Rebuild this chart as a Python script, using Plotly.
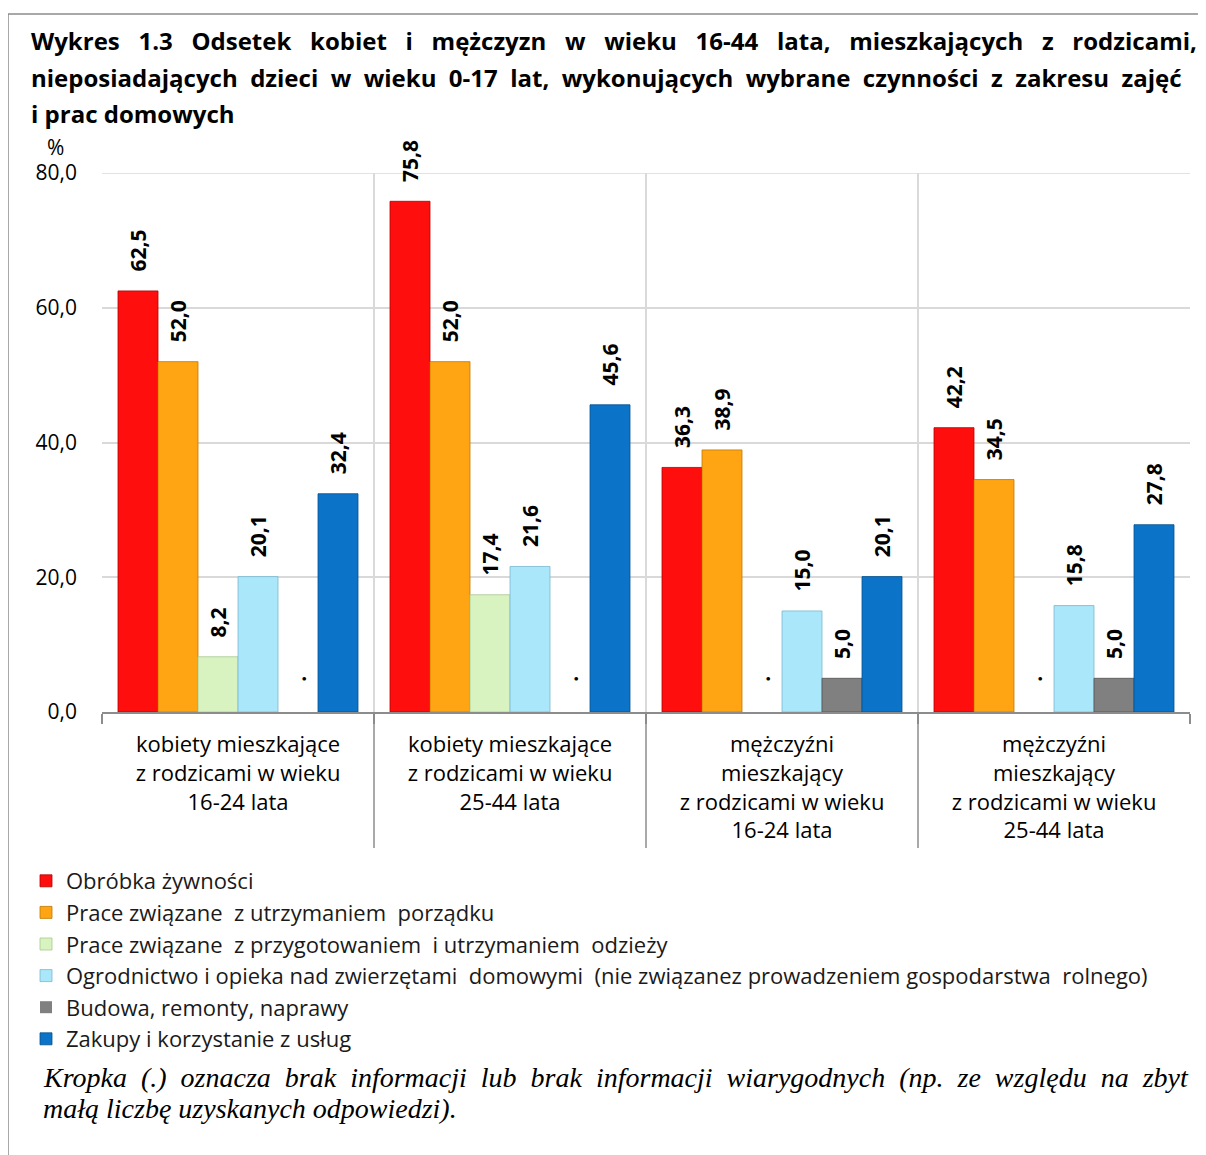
import plotly.graph_objects as go

categories = [
    "kobiety mieszkające<br>z rodzicami w wieku<br>16-24 lata",
    "kobiety mieszkające<br>z rodzicami w wieku<br>25-44 lata",
    "mężczyźni<br>mieszkający<br>z rodzicami w wieku<br>16-24 lata",
    "mężczyźni<br>mieszkający<br>z rodzicami w wieku<br>25-44 lata",
]
cat_ids = ["k16", "k25", "m16", "m25"]

series_names = [
    "Obróbka żywności",
    "Prace związane  z utrzymaniem  porządku",
    "Prace związane  z przygotowaniem  i utrzymaniem  odzieży",
    "Ogrodnictwo i opieka nad zwierzętami  domowymi  (nie związanez prowadzeniem gospodarstwa  rolnego)",
    "Budowa, remonty, naprawy",
    "Zakupy i korzystanie z usług",
]
obrobka = [62.5, 75.8, 36.3, 42.2]
porzadek = [52.0, 52.0, 38.9, 34.5]
odziez = [8.2, 17.4, None, None]
ogrodnictwo = [20.1, 21.6, 15.0, 15.8]
budowa = [None, None, 5.0, 5.0]
zakupy = [32.4, 45.6, 20.1, 27.8]
series_values = [obrobka, porzadek, odziez, ogrodnictwo, budowa, zakupy]

colors = ["#FF0E0E", "#FFA514", "#D8F3C0", "#AAE7FA", "#808080", "#0B74C8"]
edge_colors = ["#B00000", "#C07800", "#A8C890", "#78B8D0", "#505050", "#06508C"]

y_ticks = [0, 20, 40, 60, 80]
y_ticktext = ["0,0", "20,0", "40,0", "60,0", "80,0"]

# the page body adds an 8px offset; layout below is expressed in page pixels
OFF = 8
W, H = 1206, 1155
PL, PR, PT, PB = 102, 1190, 173, 712  # plot area in page pixels
L, T = PL - OFF, PT - OFF
R, B = W - (PR - OFF), H - (PB - OFF)
PW, PH = PR - PL, PB - PT


def px_x(x):
    return (x - PL) / PW


def px_y(y):
    return (PB - y) / PH


def fmt(v):
    return "." if v is None else f"{v:.1f}".replace(".", ",")


def label(v):
    pad = "\u00a0" * (5 if v is None else 3)
    return pad + fmt(v)


def justify(line, n):
    return (" " + "\u00a0" * n).join(line.split(" "))


fig = go.Figure()
for name, vals, c, ec in zip(series_names, series_values, colors, edge_colors):
    fig.add_trace(go.Bar(
        name=name,
        x=cat_ids,
        y=[0 if v is None else v for v in vals],
        text=[label(v) for v in vals],
        textposition="outside",
        textangle=-90,
        cliponaxis=False,
        constraintext="none",
        textfont=dict(family="Open Sans", size=21, color="#000000", weight="bold"),
        marker=dict(color=c, line=dict(color=ec, width=[0 if v is None else 0.8 for v in vals])),
        legendgroup=name,
        hoverinfo="skip",
    ))

fig.update_layout(
    width=W, height=H,
    margin=dict(l=L, r=R, t=T, b=B),
    paper_bgcolor="white",
    plot_bgcolor="white",
    barmode="group",
    bargap=32 / 272,
    bargroupgap=0,
    font=dict(family="Open Sans", color="#000000"),
    showlegend=True,
    legend=dict(
        x=px_x(26), y=px_y(860), xanchor="left", yanchor="top",
        orientation="v", traceorder="normal",
        font=dict(family="Open Sans", size=22, color="#1a1a1a"),
        tracegroupgap=2,
        itemclick=False, itemdoubleclick=False,
        bgcolor="rgba(0,0,0,0)",
    ),
)

fig.update_xaxes(
    type="category",
    tickmode="array",
    tickvals=cat_ids,
    ticktext=categories,
    tickson="boundaries",
    ticks="outside",
    ticklen=10,
    tickcolor="#8C8C8C",
    tickwidth=1.5,
    showgrid=True,
    gridcolor="#D9D9D9",
    gridwidth=1.5,
    showline=True,
    linecolor="#8C8C8C",
    linewidth=2,
    ticklabelstandoff=12,
    tickfont=dict(family="Open Sans", size=22, color="#000000"),
    fixedrange=True,
)
fig.update_yaxes(
    range=[0, 80],
    tickmode="array",
    tickvals=y_ticks,
    ticktext=y_ticktext,
    showgrid=True,
    gridcolor="#D9D9D9",
    gridwidth=1.5,
    zeroline=False,
    showline=False,
    ticks="",
    ticklabelstandoff=24,
    tickfont=dict(family="Open Sans", size=21, color="#000000"),
    fixedrange=True,
)

# top border of the plot area (gridline at the range end)
fig.add_shape(type="line", xref="paper", yref="y", x0=0, x1=1, y0=80, y1=80,
              line=dict(color="#D9D9D9", width=1.5), layer="below")

# separators below the category axis
for b in [0.5, 1.5, 2.5]:
    fig.add_shape(type="line", xref="x", yref="paper",
                  x0=b, x1=b, y0=px_y(720), y1=px_y(848),
                  line=dict(color="#8C8C8C", width=1.5))

# outer frame
fig.add_shape(type="rect", xref="paper", yref="paper",
              x0=px_x(8), x1=px_x(1225), y0=px_y(1175), y1=px_y(14),
              line=dict(color="#8C8C8C", width=1.5), layer="below")

title_lines = [
    justify("Wykres 1.3 Odsetek kobiet i mężczyzn w wieku 16-44 lata, mieszkających z rodzicami,", 2),
    justify("nieposiadających dzieci w wieku 0-17 lat, wykonujących wybrane czynności z zakresu zajęć", 1),
    "i prac domowych",
]
for i, line in enumerate(title_lines):
    fig.add_annotation(
        xref="paper", yref="paper", x=px_x(29), y=px_y(41 + 36 * i),
        xanchor="left", yanchor="middle", showarrow=False,
        text="<b>" + line + "</b>",
        font=dict(family="Open Sans", size=24, color="#000000"),
    )

fig.add_annotation(
    xref="paper", yref="paper", x=px_x(55), y=px_y(147),
    xanchor="center", yanchor="middle", showarrow=False,
    text="%", font=dict(family="Open Sans", size=21, color="#000000"),
)

note_lines = [
    justify("Kropka (.) oznacza brak informacji lub brak informacji wiarygodnych (np. ze względu na zbyt", 1),
    "małą liczbę uzyskanych odpowiedzi).",
]
for i, line in enumerate(note_lines):
    fig.add_annotation(
        xref="paper", yref="paper", x=px_x(41), y=px_y(1077 + 31 * i),
        xanchor="left", yanchor="middle", showarrow=False,
        text="<i>" + line + "</i>",
        font=dict(family="Liberation Serif", size=28, color="#000000"),
    )

fig.write_html("out.html")
